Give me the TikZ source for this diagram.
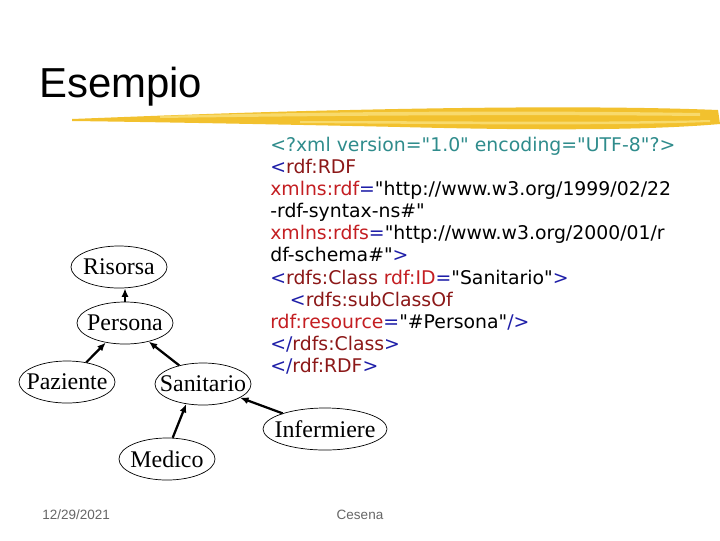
\documentclass[tikz,border=0pt]{standalone}
\usepackage{fontspec}
\usepackage{xcolor}
\setmainfont{Liberation Serif}
\setsansfont{Liberation Sans}
\newfontfamily\codefont{DejaVu Sans}
\usetikzlibrary{
	shapes.geometric,
	arrows.meta,
	positioning
}
\definecolor{xmlteal}{HTML}{2F8C8C}
\definecolor{xmlblue}{HTML}{1E1EA8}
\definecolor{xmlmaroon}{HTML}{8C1818}
\definecolor{xmlred}{HTML}{C41E22}
\definecolor{brushyellow}{HTML}{F2C12E}
\definecolor{brushlight}{HTML}{F8DA6C}
\newcommand{\xpun}[1]{{\color{xmlblue}#1}}
\newcommand{\xtag}[1]{{\color{xmlmaroon}#1}}
\newcommand{\xattr}[1]{{\color{xmlred}#1}}

\begin{document}
\begin{tikzpicture}[
					x=0.025cm, y=-0.025cm,
					cls/.style={
							ellipse,
							draw=black,
							line width=0.5pt,
							minimum width=2.4cm,
							minimum height=1.05cm,
							inner xsep=-15pt,
							inner ysep=0pt,
							font=\fontsize{17}{18}\selectfont
						},
					isa/.style={
							-{Latex[length=6pt,width=5pt]},
							line width=1.6pt
						},
					footer/.style={
							font=\sffamily\fontsize{9.6}{11}\selectfont,
							text=black!60,
							inner sep=0pt
						}
				]
				\useasboundingbox[fill=white] (0,0) rectangle (720,540);

				\node[font=\sffamily\fontsize{29.8}{34}\selectfont, anchor=base west, inner sep=0pt] (title) at (39,97) {Esempio};

				\fill[brushyellow] (72,119) .. controls (150,116) and (250,112) .. (350,110)
					.. controls (480,107) and (620,106) .. (718,110) -- (720,124)
					.. controls (640,131) and (520,130) .. (400,127)
					.. controls (260,124) and (150,122) .. (72,121) -- cycle;
				\fill[brushlight] (160,116) .. controls (300,112) and (500,110) .. (700,113)
					-- (700,116) .. controls (500,114) and (300,116) .. (160,118) -- cycle;
				\fill[brushlight] (300,121) .. controls (450,121) and (600,123) .. (710,120)
					-- (710,122) .. controls (600,126) and (450,124) .. (300,123) -- cycle;

				\node[cls] (Risorsa) at (119,267) {Risorsa};
				\node[cls] (Persona) at (125,323) {Persona};
				\node[cls] (Paziente) at (67,382) {Paziente};
				\node[cls] (Sanitario) at (203,384) {Sanitario};
				\node[cls] (Medico) at (167,459) {Medico};
				\node[cls, minimum width=3.1cm] (Infermiere) at (325,429) {Infermiere};

				\draw[isa] (Persona.north) -- (Persona.north |- Risorsa.south);
				\draw[isa] (Paziente) -- (Persona);
				\draw[isa] (Sanitario) -- (Persona);
				\draw[isa] (Medico.75) -- (Sanitario.230);
				\draw[isa] (Infermiere) -- (Sanitario);

				\node[anchor=north west, inner sep=0pt, align=left,
					font=\codefont\fontsize{13.4}{15.7}\selectfont] (xmlcode) at (270,137) {
				{\color{xmlteal}<?xml version="1.0" encoding="UTF-8"?>}\\
				\xpun{<}\xtag{rdf:RDF}\\
				\xattr{xmlns:rdf}\xpun{=}"http://www.w3.org/1999/02/22\\
				-rdf-syntax-ns\#"\\
				\xattr{xmlns:rdfs}\xpun{=}"http://www.w3.org/2000/01/r\\
				df-schema\#"\xpun{>}\\
				\xpun{<}\xtag{rdfs:Class} \xattr{rdf:ID}\xpun{=}"Sanitario"\xpun{>}\\
				\hspace*{14pt}\xpun{<}\xtag{rdfs:subClassOf}\\
				\xattr{rdf:resource}\xpun{=}"\#Persona"\xpun{/>}\\
				\xpun{</}\xtag{rdfs:Class}\xpun{>}\\
				\xpun{</}\xtag{rdf:RDF}\xpun{>}
				};

				\node[footer, anchor=west] (date) at (42,515) {12/29/2021};
				\node[footer] (place) at (360,515) {Cesena};
		\end{tikzpicture}
\end{document}
